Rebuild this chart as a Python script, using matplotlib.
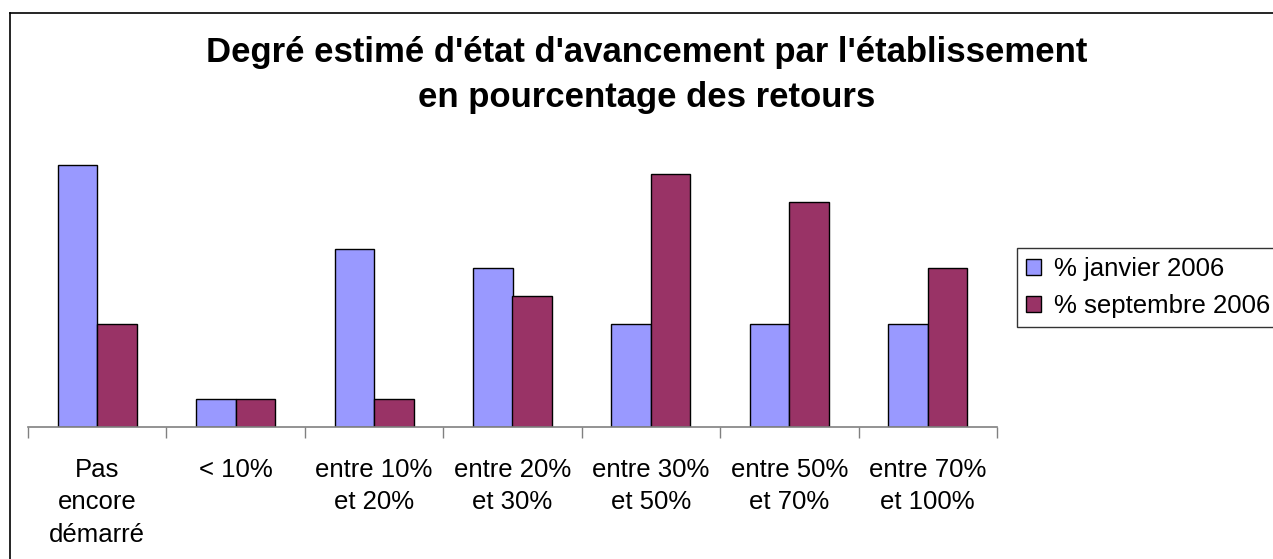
import matplotlib.pyplot as plt
import matplotlib.lines as mlines
import numpy as np

# data (percent of returns)
categories = ['Pas\nencore\ndémarré', '< 10%', 'entre 10%\net 20%', 'entre 20%\net 30%',
              'entre 30%\net 50%', 'entre 50%\net 70%', 'entre 70%\net 100%']
janvier_2006 = [28, 3, 19, 17, 11, 11, 11]
septembre_2006 = [11, 3, 3, 14, 27, 24, 17]
series_names = ['% janvier 2006', '% septembre 2006']

BLUE = '#9999FF'
PLUM = '#993366'
W, H = 1273, 559

plt.rcParams['font.family'] = ['Liberation Sans', 'DejaVu Sans']

fig = plt.figure(figsize=(W / 100, H / 100), dpi=100)
ax = fig.add_axes([28 / W, 1 - 427 / H, (997 - 28) / W, (427 - 146) / H])

x = np.arange(len(categories))
bw = 1 / 3.5
ax.bar(x - bw / 2, janvier_2006, bw, color=BLUE, edgecolor='black', linewidth=1,
       label=series_names[0])
ax.bar(x + bw / 2, septembre_2006, bw, color=PLUM, edgecolor='black', linewidth=1,
       label=series_names[1])

ax.set_xlim(-0.5, len(categories) - 0.5)
ax.set_ylim(0, 30)

# axis look: only a grey baseline with ticks between categories
for s in ['left', 'right', 'top']:
    ax.spines[s].set_visible(False)
ax.spines['bottom'].set_color('#808080')
ax.spines['bottom'].set_linewidth(1.2)
ax.set_yticks([])
ax.set_xticks(np.arange(len(categories) + 1) - 0.5)
ax.set_xticklabels([])
ax.tick_params(axis='x', which='major', length=8, width=1, color='#808080', direction='out')
ax.set_xticks(x, minor=True)
ax.set_xticklabels(categories, minor=True, fontsize=18.5, linespacing=1.45)
ax.tick_params(axis='x', which='minor', length=0, pad=22)

fig.text(647 / W, 1 - 75 / H,
         "Degré estimé d'état d'avancement par l'établissement\nen pourcentage des retours",
         ha='center', va='center', fontsize=25, fontweight='bold', linespacing=1.45)

leg = ax.legend(loc='upper left', bbox_to_anchor=(1017 / W, 1 - 248 / H),
                bbox_transform=fig.transFigure, borderaxespad=0, fontsize=18.5,
                fancybox=False, frameon=True, handlelength=0.6, handleheight=0.6,
                handletextpad=0.5, borderpad=0.35, labelspacing=0.5)
leg.get_frame().set_edgecolor('black')
leg.get_frame().set_linewidth(1)

# chart area border (cropped at right and bottom in the reference)
fig.add_artist(mlines.Line2D([10 / W, 10 / W], [0, 1 - 13 / H], color='black', lw=1.2))
fig.add_artist(mlines.Line2D([10 / W, 1], [1 - 13 / H, 1 - 13 / H], color='black', lw=1.2))

fig.savefig('out.png', dpi=100)
